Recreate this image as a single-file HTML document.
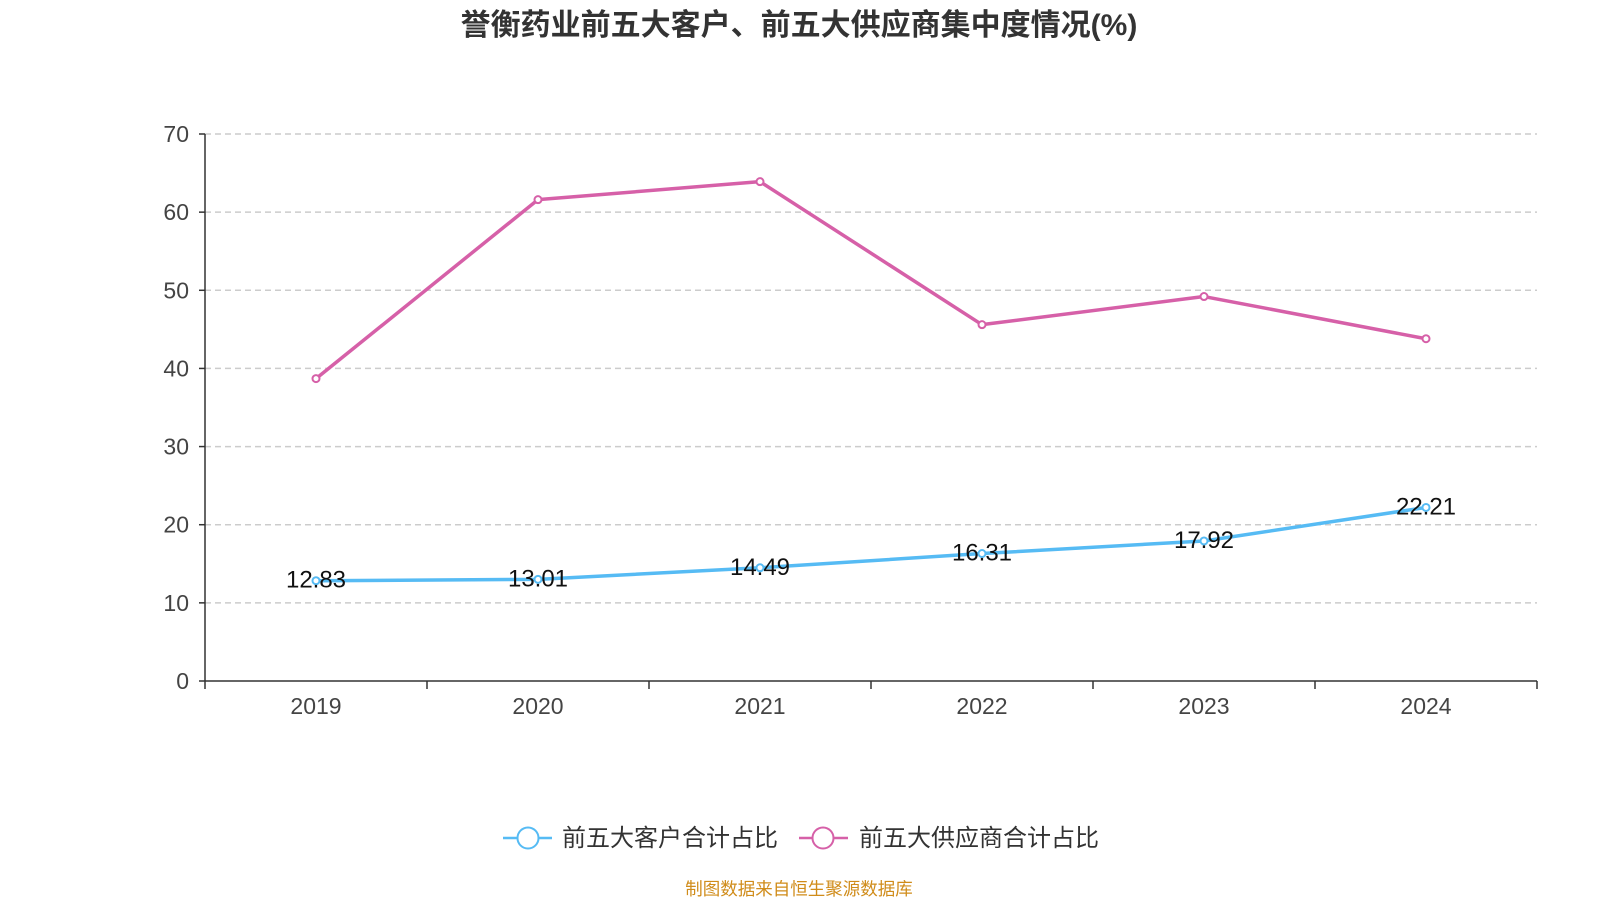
<!DOCTYPE html>
<html><head><meta charset="utf-8">
<style>
html,body{margin:0;padding:0;background:#fff;}
body{width:1600px;height:900px;overflow:hidden;font-family:"Liberation Sans","Noto Sans CJK SC",sans-serif;}
</style></head>
<body>
<svg id="chart" width="1600" height="900" xmlns="http://www.w3.org/2000/svg">
<text x="799" y="35" text-anchor="middle" font-size="30" font-weight="bold" fill="#333" font-family="Liberation Sans, Noto Sans CJK SC, sans-serif">誉衡药业前五大客户、前五大供应商集中度情况(%)</text>
<g id="grid"></g>
<g id="axes"></g>
<g id="series"></g>
<g font-family="Liberation Sans, Noto Sans CJK SC, sans-serif">
 <g>
  <line x1="503" y1="838" x2="552" y2="838" stroke="#56bbf4" stroke-width="2.5"/>
  <circle cx="528" cy="838" r="10.5" fill="#fff" stroke="#56bbf4" stroke-width="2"/>
  <text x="562" y="846" font-size="24" fill="#333">前五大客户合计占比</text>
 </g>
 <g>
  <line x1="799" y1="838" x2="848" y2="838" stroke="#d660a8" stroke-width="2.5"/>
  <circle cx="823" cy="838" r="10.5" fill="#fff" stroke="#d660a8" stroke-width="2"/>
  <text x="859" y="846" font-size="24" fill="#333">前五大供应商合计占比</text>
 </g>
</g>
<text x="799" y="895" text-anchor="middle" font-size="17.5" fill="#d08c1a" font-family="Liberation Sans, Noto Sans CJK SC, sans-serif">制图数据来自恒生聚源数据库</text>
</svg>
<script>
const categories = ["2019","2020","2021","2022","2023","2024"];
const customerValues = [12.83,13.01,14.49,16.31,17.92,22.21];
const supplierValues = [38.7,61.6,63.9,45.6,49.2,43.8];
const yTicks = [0,10,20,30,40,50,60,70];

const NS="http://www.w3.org/2000/svg";
const x0=205,x1=1537,y0=681,y1=134,yMax=70;
const band=(x1-x0)/categories.length;
function xs(i){return x0+band*(i+0.5);}
function ys(v){return y0-(v/yMax)*(y0-y1);}
function mk(tag,attrs,parent){const e=document.createElementNS(NS,tag);for(const k in attrs)e.setAttribute(k,attrs[k]);parent.appendChild(e);return e;}
const grid=document.getElementById('grid'),axes=document.getElementById('axes'),ser=document.getElementById('series');
const font="Liberation Sans, Noto Sans CJK SC, sans-serif";
yTicks.forEach(t=>{
  const y=ys(t);
  if(t>0){const g=mk('line',{x1:x0,x2:x1,y1:y,y2:y,stroke:'#ccc','stroke-width':1.5,'stroke-dasharray':'6,4'},grid);
  
  }
  mk('line',{x1:x0-6,x2:x0,y1:y,y2:y,stroke:'#333','stroke-width':1.5},axes);
  const tx=mk('text',{x:x0-16,y:y+8,'text-anchor':'end','font-size':23,fill:'#444','font-family':font},axes);
  tx.textContent=t;
  
  
});
mk('line',{x1:x0,x2:x0,y1:y1,y2:y0,stroke:'#333','stroke-width':1.5},axes);
mk('line',{x1:x0,x2:x1,y1:y0,y2:y0,stroke:'#333','stroke-width':1.5},axes);
for(let i=0;i<=categories.length;i++){const x=x0+band*i;mk('line',{x1:x,x2:x,y1:y0,y2:y0+8,stroke:'#333','stroke-width':1.5},axes);}
categories.forEach((c,i)=>{
  const tx=mk('text',{x:xs(i),y:714,'text-anchor':'middle','font-size':23,fill:'#444','font-family':font},axes);
  tx.textContent=c;
  
  
});
function drawSeries(vals,color,name,labels){
  const pts=vals.map((v,i)=>xs(i)+','+ys(v)).join(' ');
  const pl=mk('polyline',{points:pts,fill:'none',stroke:color,'stroke-width':3.5,'stroke-linejoin':'round'},ser);
  
  
  vals.forEach((v,i)=>{
    const c=mk('circle',{cx:xs(i),cy:ys(v),r:3.5,fill:'#fff',stroke:color,'stroke-width':2},ser);
    
    
    if(labels){
      const t=mk('text',{x:xs(i),y:ys(v)+7,'text-anchor':'middle','font-size':24,fill:'#111','font-family':font},ser);
      t.textContent=v.toFixed(2);
      
      
    }
  });
}
drawSeries(supplierValues,'#d660a8','suppliers',false);
drawSeries(customerValues,'#56bbf4','customers',true);
</script>
</body></html>
